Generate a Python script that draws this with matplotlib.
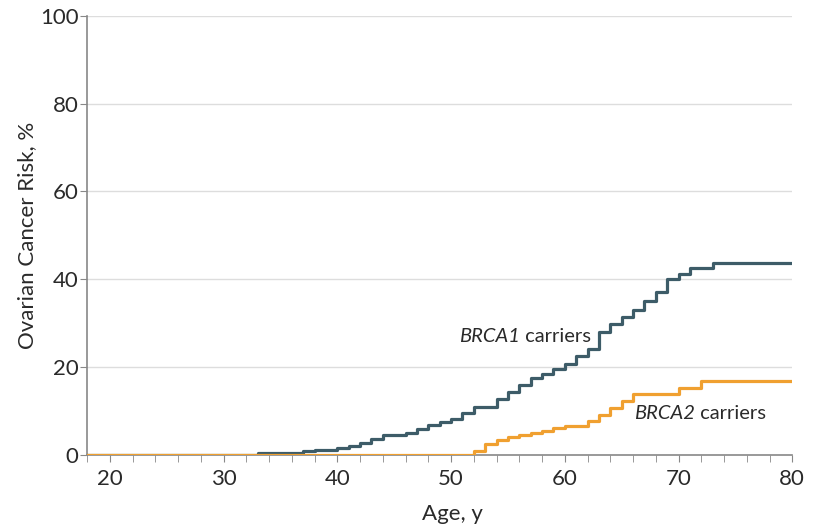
import numpy as np
import matplotlib.pyplot as plt

# step data (age, cumulative risk %)
brca1_age = [18, 33, 35, 37, 38, 39, 40, 41, 42, 43, 44, 46, 47, 48, 49, 50, 51, 52,
             54, 55, 56, 57, 58, 59, 60, 61, 62, 63, 64, 65, 66, 67, 68, 69, 70, 71, 73, 80]
brca1_risk = [0, 0.3, 0.5, 0.8, 1.0, 1.2, 1.5, 2.0, 2.7, 3.7, 4.5, 5.0, 5.8, 6.8, 7.5, 8.2, 9.6, 11.0,
              12.8, 14.3, 16.0, 17.5, 18.4, 19.5, 20.6, 22.4, 24.0, 28.0, 29.8, 31.4, 33.0, 35.0, 37.0, 40.0, 41.2, 42.6, 43.6, 43.6]

brca2_age = [18, 52, 53, 54, 55, 56, 57, 58, 59, 60, 62, 63, 64, 65, 66, 70, 72, 80]
brca2_risk = [0, 0.8, 2.4, 3.4, 4.0, 4.4, 5.0, 5.5, 6.0, 6.6, 7.8, 9.0, 10.6, 12.2, 13.8, 15.3, 16.8, 16.8]

plt.rcParams['font.family'] = ['Lato', 'DejaVu Sans']
txtcol = '#2a2a2a'

fig = plt.figure(figsize=(8.21, 5.27), dpi=100)
ax = fig.add_axes([0.106, 0.137, 0.859, 0.833])

ax.step(brca1_age, brca1_risk, where='post', color='#3d5c68', lw=2.3, zorder=3)
ax.step(brca2_age, brca2_risk, where='post', color='#f0a030', lw=2.3, zorder=3)

# series labels: italic gene name + upright "carriers"
t1 = ax.text(50.7, 26.9, 'BRCA1', fontsize=14.5, style='italic', color=txtcol, va='center')
ax.annotate(' carriers', xy=(1, 0.5), xycoords=t1, fontsize=14.5, color=txtcol, va='center')
t2 = ax.text(66.1, 9.5, 'BRCA2', fontsize=14.5, style='italic', color=txtcol, va='center')
ax.annotate(' carriers', xy=(1, 0.5), xycoords=t2, fontsize=14.5, color=txtcol, va='center')

ax.set_xlim(18, 80)
ax.set_ylim(0, 100)
ax.set_xticks([20, 30, 40, 50, 60, 70, 80])
ax.set_xticks(np.arange(18, 81, 2), minor=True)
ax.set_yticks([0, 20, 40, 60, 80, 100])

for y in [20, 40, 60, 80, 100]:
    ax.axhline(y, color='#dddddd', lw=1, zorder=1)

for s in ['top', 'right']:
    ax.spines[s].set_visible(False)
for s in ['left', 'bottom']:
    ax.spines[s].set_color('#888888')
    ax.spines[s].set_linewidth(1.2)

ax.tick_params(axis='both', which='both', color='#888888', labelsize=16, labelcolor=txtcol)
ax.tick_params(axis='x', which='major', length=5, pad=5)
ax.tick_params(axis='x', which='minor', length=5)
ax.tick_params(axis='y', length=5, pad=1)

ax.set_xlabel('Age, y', fontsize=16, color=txtcol)
ax.set_ylabel('Ovarian Cancer Risk, %', fontsize=16, color=txtcol)
ax.xaxis.set_label_coords(0.518, -0.112)
ax.yaxis.set_label_coords(-0.071, 0.5)

plt.savefig('out.png', dpi=100)
